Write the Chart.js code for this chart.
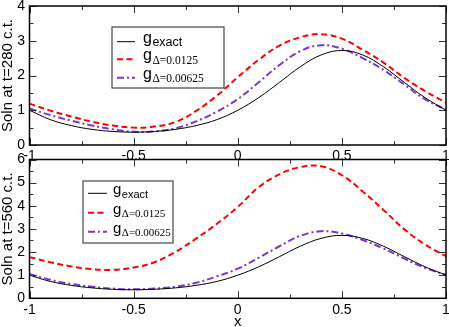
<!DOCTYPE html>
<html><head><meta charset="utf-8">
<script src="https://cdn.jsdelivr.net/npm/chart.js@4"></script>
<style>
html,body{margin:0;padding:0;background:#fff;width:449px;height:327px;overflow:hidden;}
#wrap{position:relative;width:449px;height:327px;}
canvas{position:absolute;left:0;}
#c1{top:0;}
#c2{top:150px;}
</style></head><body>
<div id="wrap"><canvas id="c1" width="449" height="165"></canvas><canvas id="c2" width="449" height="180"></canvas></div>
<script>
// ---- data ----
const X_VALUES = [-1,-0.9,-0.8,-0.7,-0.6,-0.5,-0.4,-0.3,-0.2,-0.1,0,0.1,0.2,0.3,0.4,0.5,0.6,0.7,0.8,0.9,1];
const TOP_EXACT   = [1.00,0.73,0.56,0.45,0.39,0.37,0.39,0.45,0.56,0.73,1.00,1.36,1.80,2.25,2.59,2.72,2.59,2.25,1.80,1.36,1.00];
const TOP_D0125   = [1.19,0.99,0.82,0.67,0.56,0.50,0.53,0.66,0.98,1.42,1.95,2.45,2.86,3.10,3.19,3.06,2.74,2.37,1.93,1.55,1.22];
const TOP_D00625  = [1.05,0.86,0.70,0.56,0.45,0.38,0.39,0.48,0.68,0.96,1.32,1.80,2.30,2.70,2.87,2.77,2.50,2.16,1.74,1.31,1.02];
const BOT_EXACT   = [1.00,0.73,0.56,0.45,0.39,0.37,0.39,0.45,0.56,0.73,1.00,1.36,1.80,2.25,2.59,2.72,2.59,2.25,1.80,1.36,1.00];
const BOT_D0125   = [1.78,1.56,1.38,1.26,1.23,1.33,1.56,2.00,2.58,3.22,3.95,4.80,5.36,5.67,5.71,5.32,4.62,3.82,2.98,2.32,1.82];
const BOT_D00625  = [1.05,0.80,0.62,0.50,0.42,0.39,0.42,0.50,0.67,0.95,1.28,1.75,2.25,2.70,2.90,2.80,2.52,2.15,1.72,1.31,1.02];
const X_TICKS     = [-1,-0.5,0,0.5,1];
const TOP_Y_TICKS = [0,1,2,3,4];
const BOT_Y_TICKS = [0,1,2,3,4,5,6];
const LEGEND_MAIN = ['g','g','g'];
const LEGEND_SUB  = ['exact','\u0394=0.0125','\u0394=0.00625'];
const LEGEND_SUB_SERIF = [false,true,true];
const TOP_TITLE = 'Soln at t=280 c.t.';
const BOT_TITLE = 'Soln at t=560 c.t.';
const X_TITLE = 'x';

const SANS = '"Liberation Sans", Arial, Helvetica, sans-serif';
const SERIF = '"Liberation Serif", "Times New Roman", serif';
const pts = ys => X_VALUES.map((x,i)=>({x:x,y:ys[i]}));

const frameTicks = {
  id:'frameTicks',
  beforeDatasetsDraw(chart){
    const a = chart.chartArea, ctx = chart.ctx;
    ctx.save(); ctx.fillStyle='#fff';
    ctx.fillRect(a.left,a.top,a.right-a.left,a.bottom-a.top); ctx.restore();
  },
  afterDatasetsDraw(chart, args, o){
    const {ctx, chartArea:a, scales} = chart;
    const xs = scales.x, ys = scales.y;
    ctx.save();
    ctx.strokeStyle = '#333'; ctx.lineWidth = 1;
    ctx.beginPath();
    const isMajor = (v,m)=>Math.abs(v/m-Math.round(v/m))<1e-6;
    for (let v = xs.min; v <= xs.max+1e-9; v += o.xMinor) {
      const len = isMajor(v,o.xMajor)? o.major : o.minor;
      const p = Math.round(xs.getPixelForValue(v))+0.5;
      ctx.moveTo(p,a.bottom); ctx.lineTo(p,a.bottom-len);
      ctx.moveTo(p,a.top); ctx.lineTo(p,a.top+len);
    }
    for (let v = ys.min; v <= ys.max+1e-9; v += o.yMinor) {
      const len = isMajor(v,o.yMajor)? o.major : o.minor;
      const p = Math.round(ys.getPixelForValue(v))+0.5;
      ctx.moveTo(a.left,p); ctx.lineTo(a.left+len,p);
      ctx.moveTo(a.right,p); ctx.lineTo(a.right-len,p);
    }
    ctx.stroke();
    ctx.strokeStyle='#000'; ctx.lineWidth=1.5;
    ctx.strokeRect(a.left,a.top,a.right-a.left,a.bottom-a.top);
    ctx.restore();
  }
};

const gLegend = {
  id:'gLegend',
  afterDraw(chart, args, o){
    const ctx = chart.ctx;
    ctx.save();
    ctx.fillStyle='#fff'; ctx.fillRect(o.x,o.y,o.w,o.h);
    ctx.strokeStyle='#444'; ctx.lineWidth=1.2; ctx.strokeRect(o.x,o.y,o.w,o.h);
    chart.data.datasets.forEach((ds,i)=>{
      const ry = o.rows[i];
      ctx.beginPath(); ctx.setLineDash(ds.borderDash||[]);
      ctx.strokeStyle=ds.borderColor; ctx.lineWidth=ds.borderWidth;
      ctx.moveTo(o.lx0,ry); ctx.lineTo(o.lx1,ry); ctx.stroke();
      ctx.setLineDash([]);
      ctx.fillStyle='#000'; ctx.textAlign='left'; ctx.textBaseline='alphabetic';
      ctx.font = o.gFont;
      ctx.fillText(LEGEND_MAIN[i], o.tx, ry+o.gDy);
      const w = ctx.measureText(LEGEND_MAIN[i]).width;
      ctx.font = LEGEND_SUB_SERIF[i] ? o.serifFont : o.sansFont;
      ctx.fillText(LEGEND_SUB[i], o.tx+w+o.subGap, ry+o.subDy);
    });
    ctx.restore();
  }
};

function makeChart(id, exact, d1, d2, yTicks, yMax, title, opts){
  const datasets = [
    {data:pts(exact), borderColor:'#000000', borderWidth:1, borderDash:[]},
    {data:pts(d1), borderColor:'#ff0000', borderWidth:2, borderDash:[6,3.5]},
    {data:pts(d2), borderColor:'#7a35d6', borderWidth:2, borderDash:[7,3,2,3]}
  ];
  datasets.forEach(d=>{ d.pointRadius=0; d.fill=false; d.tension=0.4; });
  return new Chart(document.getElementById(id), {
    type:'line',
    data:{datasets},
    options:{
      responsive:false, animation:false, devicePixelRatio:1,
      layout:{padding:opts.padding},
      plugins:{legend:{display:false}, tooltip:{enabled:false},
        frameTicks:{xMinor:0.25,xMajor:0.5,yMinor:0.5,yMajor:1,major:7,minor:4},
        gLegend:opts.legend},
      scales:{
        x:{type:'linear', min:-1, max:1,
          afterBuildTicks:s=>{ s.ticks = X_TICKS.map(v=>({value:v})); },
          afterFit:s=>{ s.height = opts.xHeight; s.paddingLeft=0; s.paddingRight=0; },
          grid:{display:false, drawTicks:false}, border:{display:false},
          ticks:{autoSkip:false, maxRotation:0, padding:3, color:'#000',
            font:{family:SANS,size:14}, callback:v=>String(v)},
          title:{display:!!opts.xTitle, text:X_TITLE, color:'#000',
            font:{family:SANS,size:15,lineHeight:1.1}, padding:{top:0,bottom:0}}
        },
        y:{type:'linear', min:0, max:yMax,
          afterBuildTicks:s=>{ s.ticks = yTicks.map(v=>({value:v})); },
          afterFit:s=>{ s.width = 29.5; s.paddingTop=0; s.paddingBottom=0; },
          grid:{display:false, drawTicks:false}, border:{display:false},
          ticks:{padding:4.5, color:'#000', font:{family:SANS,size:14}, callback:v=>String(v)},
          title:{display:true, text:title, color:'#000',
            font:{family:SANS,size:15,lineHeight:1.1}, padding:{top:0,bottom:0}}
        }
      }
    },
    plugins:[frameTicks, gLegend]
  });
}

makeChart('c1', TOP_EXACT, TOP_D0125, TOP_D00625, TOP_Y_TICKS, 4, TOP_TITLE, {
  padding:{top:6,right:3,left:0,bottom:0}, xHeight:20, xTitle:false,
  legend:{x:112,y:27,w:112,h:61,rows:[41.7,59.3,77.7],lx0:117,lx1:135,tx:143,
    gFont:'16px '+SANS, sansFont:'12.5px '+SANS, serifFont:'11.5px '+SERIF,
    gDy:1, subDy:4.5, subGap:0.5}
});
makeChart('c2', BOT_EXACT, BOT_D0125, BOT_D00625, BOT_Y_TICKS, 6, BOT_TITLE, {
  padding:{top:9.5,right:3,left:0,bottom:0}, xHeight:31.7, xTitle:true,
  legend:{x:83,y:31,w:90,h:62,rows:[43.3,62.7,81.7],lx0:88,lx1:107,tx:113,
    gFont:'15px '+SANS, sansFont:'11px '+SANS, serifFont:'11px '+SERIF,
    gDy:1, subDy:4.5, subGap:0.5}
});
</script>
</body></html>
